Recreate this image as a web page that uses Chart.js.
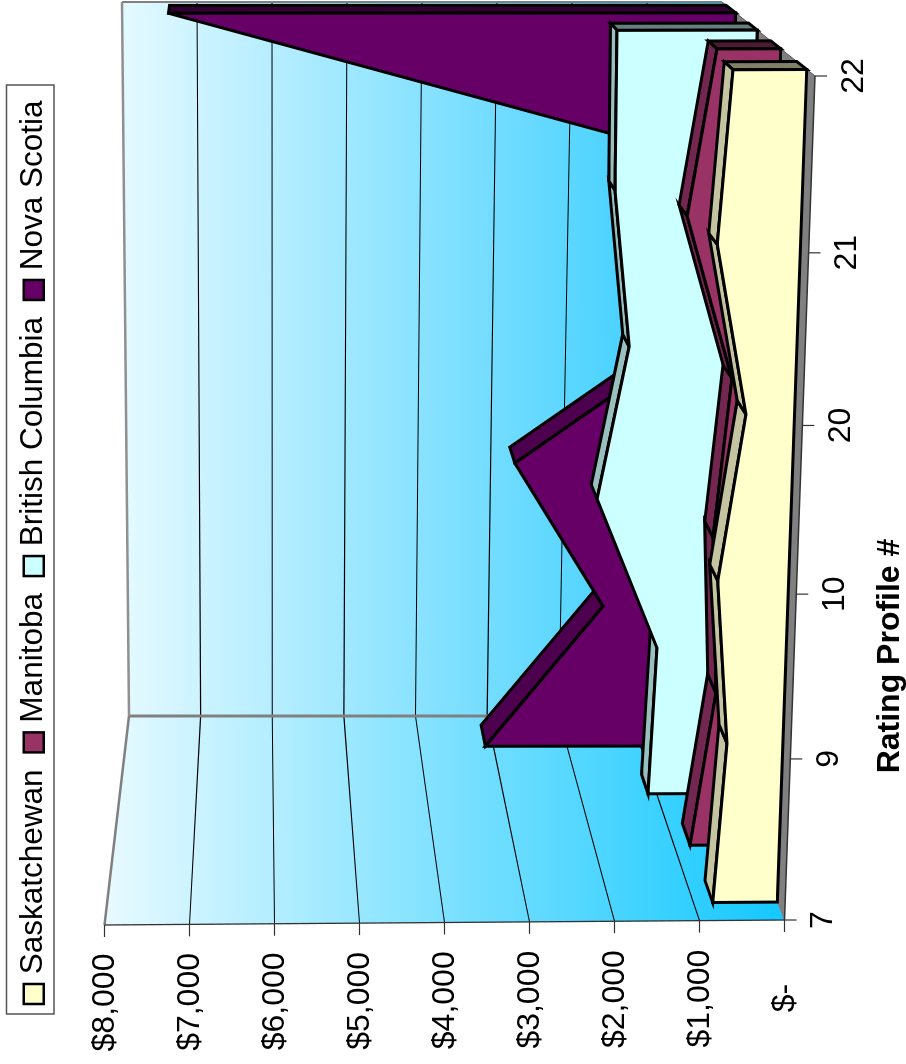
<!DOCTYPE html>
<html>
<head>
<meta charset="utf-8">
<style>
html,body{margin:0;padding:0;background:#fff;overflow:hidden}
#wrap{position:relative;width:906px;height:1064px;overflow:hidden}
#c{position:absolute;left:0;top:0;transform-origin:0 0;transform:translate(0,1064px) rotate(-90deg)}
</style>
<script src="https://cdn.jsdelivr.net/npm/chart.js@4/dist/chart.umd.js"></script>
</head>
<body>
<div id="wrap"><canvas id="c" width="1064" height="906"></canvas></div>
<script>
const categories = ['7','9','10','20','21','22'];
const saskatchewan = [770,660,830,565,960,840];
const manitoba = [800,535,630,460,1060,760];
const britishColumbia = [1113,1045,1864,1500,1725,1747];
const novaScotia = [3110,1550,2770,0,0,7360];
const seriesNames = ['Saskatchewan','Manitoba','British Columbia','Nova Scotia'];
const seriesFill = ['#FFFFCC','#993366','#CCFFFF','#660066'];
const seriesTop = ['#C4C4A0','#732650','#99BFBF','#4D004D'];
const seriesEnd = ['#808066','#4D1A33','#668080','#330033'];
const depthFront = [0.088,0.368,0.62,0.853];
const depthBack = [0.196,0.475,0.715,0.956];

const H = 1064;
const pg = (px,py)=>[H-py,px];           // page position -> rotated chart position
const box = {
  fl0:pg(784.5,920), fl1:pg(104.5,925), fr0:pg(815,76), fr1:pg(103,79),
  bl0:pg(702,716),   bl1:pg(129,716),   br0:pg(722,2),  br1:pg(122,2)
};
const mix=(a,b,k)=>[a[0]+(b[0]-a[0])*k,a[1]+(b[1]-a[1])*k];
function boxPoint(t,v,w){
  const f=mix(mix(box.fl0,box.fl1,v),mix(box.fr0,box.fr1,v),t);
  const b=mix(mix(box.bl0,box.bl1,v),mix(box.br0,box.br1,v),t);
  return mix(f,b,w);
}
function project(chart,i,val,w){
  const xs=chart.scales.x, ys=chart.scales.y;
  const t=(xs.getPixelForValue(i)-xs.left)/(xs.right-xs.left);
  const v=(ys.bottom-ys.getPixelForValue(val))/(ys.bottom-ys.top);
  return boxPoint(t,v,w);
}

class PerspectiveCategory extends Chart.CategoryScale {
  getPixelForDecimal(d){ return super.getPixelForDecimal(d/(1+0.06*(1-d))); }
  _computeLabelItems(area){
    const items=super._computeLabelItems(area);
    items.forEach((it,i)=>{
      const x=this.getPixelForTick(i);
      const t=(x-this.left)/(this.right-this.left);
      it.options.translation=[x,784.5+30.5*t+39];
      it.options.textBaseline='middle';
      it.options.textAlign='center';
      it.textOffset=0;
    });
    return items;
  }
  drawTitle(){
    const c=this.ctx; c.save(); c.translate(-158,3); super.drawTitle(); c.restore();
  }
}
PerspectiveCategory.id='perspectiveCategory';
PerspectiveCategory.defaults=Chart.CategoryScale.defaults;

class TiltedLinear extends Chart.LinearScale {
  _computeLabelItems(area){
    const items=super._computeLabelItems(area);
    items.forEach((it,i)=>{
      const y=this.getPixelForTick(i);
      const v=(this.bottom-y)/(this.bottom-this.top);
      it.options.translation=[66-4.5*v,y+1];
      it.options.textAlign='center';
      it.options.textBaseline='middle';
      it.textOffset=0;
    });
    return items;
  }
}
TiltedLinear.id='tiltedLinear';
TiltedLinear.defaults=Chart.LinearScale.defaults;
Chart.register(PerspectiveCategory,TiltedLinear);

function poly(ctx,pts,fill,stroke,lw){
  ctx.beginPath();
  pts.forEach((p,i)=>i?ctx.lineTo(p[0],p[1]):ctx.moveTo(p[0],p[1]));
  ctx.closePath();
  if(fill){ctx.fillStyle=fill;ctx.fill();}
  if(stroke){ctx.strokeStyle=stroke;ctx.lineWidth=lw;ctx.stroke();}
}
function seg(ctx,a,b,color,lw){
  ctx.beginPath();ctx.moveTo(a[0],a[1]);ctx.lineTo(b[0],b[1]);
  ctx.strokeStyle=color;ctx.lineWidth=lw;ctx.stroke();
}

const area3d={
  id:'area3d',
  beforeLayout(chart){
    const l=chart.legend;
    if(l&&!l._patched){
      const f=l.fit;
      l.fit=function(){f.call(this);this.height=60;};
      l._patched=true;
    }
  },
  afterLayout(chart){
    const l=chart.legend;
    const w=l.right-l.left;
    l.left=43;l.right=43+w;
    l.top=-5;l.bottom=55;
  },
  beforeDatasetsDraw(chart){
    const ctx=chart.ctx;
    ctx.save();
    ctx.lineJoin='miter';ctx.miterLimit=6;
    // legend frame
    ctx.strokeStyle='#555';ctx.lineWidth=1.5;
    ctx.strokeRect(50,6.5,929,47.5);

    const ys=chart.scales.y, xs=chart.scales.x;
    const last=categories.length-1;
    const BL0=project(chart,0,0,1),BL1=project(chart,0,8000,1);
    const BR0=project(chart,last,0,1),BR1=project(chart,last,8000,1);
    const FL0=project(chart,0,0,0),FL1=project(chart,0,8000,0);
    const FR0=project(chart,last,0,0);

    // floor
    poly(ctx,[FL0,FR0,BR0,BL0],'#808080');
    // back wall
    let g=ctx.createLinearGradient(0,BL1[1],0,BL0[1]);
    g.addColorStop(0,'#E2F9FF');g.addColorStop(1,'#33CCFF');
    poly(ctx,[BL0,BL1,BR1,BR0],g);
    // side wall
    g=ctx.createLinearGradient(0,FL1[1],0,FL0[1]);
    g.addColorStop(0,'#E8FAFF');g.addColorStop(1,'#14C8FF');
    poly(ctx,[FL0,FL1,BL1,BL0],g);

    // gridlines from the value scale
    ys.ticks.forEach(tk=>{
      if(tk.value===0||tk.value===8000) return;
      const a=project(chart,0,tk.value,0),b=project(chart,0,tk.value,1),c=project(chart,last,tk.value,1);
      seg(ctx,a,b,'#000',1.2);seg(ctx,b,c,'#000',1.2);
    });
    // wall edges
    seg(ctx,FL1,BL1,'#808080',2.5);
    seg(ctx,BL1,BL0,'#808080',3);
    seg(ctx,BL1,BR1,'#909090',2.5);
    seg(ctx,BR1,BR0,'#808080',2);
    seg(ctx,BR0,FR0,'#555',1);
    seg(ctx,BL0,FL0,'#808080',1);
    // axes
    seg(ctx,FL0,FL1,'#333',1.3);
    seg(ctx,FL0,FR0,'#333',1.3);
    ys.ticks.forEach(tk=>{
      const a=project(chart,0,tk.value,0);
      seg(ctx,a,[a[0]-12,a[1]],'#333',1.2);
    });
    xs.ticks.forEach((tk,i)=>{
      const a=project(chart,i,0,0);
      seg(ctx,a,[a[0],a[1]+12],'#333',1.2);
    });

    // series, back to front
    for(let s=chart.data.datasets.length-1;s>=0;s--){
      const vals=chart.data.datasets[s].data;
      const wf=depthFront[s],wb=depthBack[s];
      const lw=3;
      // end face
      poly(ctx,[project(chart,last,0,wf),project(chart,last,vals[last],wf),
                project(chart,last,vals[last],wb),project(chart,last,0,wb)],seriesEnd[s],'#000',lw);
      // top strips
      for(let i=0;i<last;i++){
        const a=project(chart,i,vals[i],wf),b=project(chart,i+1,vals[i+1],wf),
              c=project(chart,i+1,vals[i+1],wb),d=project(chart,i,vals[i],wb);
        const cross=(b[0]-a[0])*(d[1]-a[1])-(b[1]-a[1])*(d[0]-a[0]);
        if(cross<0) poly(ctx,[a,b,c,d],seriesTop[s],'#000',lw);
      }
      // front face
      const pts=[];
      pts.push(project(chart,0,0,wf));
      vals.forEach((v,i)=>pts.push(project(chart,i,v,wf)));
      pts.push(project(chart,last,0,wf));
      poly(ctx,pts,seriesFill[s],'#000',lw);
    }
    ctx.restore();
  }
};

const makeSet=(i,data)=>({
  label:seriesNames[i],data,
  backgroundColor:seriesFill[i],borderColor:'#000',borderWidth:2.5,
  pointStyle:'rect',pointRadius:0,showLine:false,fill:false
});

new Chart(document.getElementById('c'),{
  type:'line',
  data:{labels:categories,datasets:[
    makeSet(0,saskatchewan),makeSet(1,manitoba),makeSet(2,britishColumbia),makeSet(3,novaScotia)
  ]},
  plugins:[area3d],
  options:{
    responsive:false,animation:false,devicePixelRatio:1,
    font:{family:'"Liberation Sans"'},
    layout:{padding:{left:0,right:76,top:44.5,bottom:0}},
    plugins:{
      tooltip:{enabled:false},
      legend:{
        display:true,position:'top',align:'start',
        labels:{
          color:'#000',usePointStyle:true,boxWidth:8,boxHeight:20,padding:23,
          font:{family:'"Liberation Sans"',size:31.5}
        }
      }
    },
    scales:{
      x:{
        type:'perspectiveCategory',offset:false,
        grid:{display:false},border:{display:false},
        ticks:{color:'#000',maxRotation:0,minRotation:0,autoSkip:false,
               font:{family:'"Liberation Sans"',size:32}},
        title:{display:true,text:'Rating Profile #',color:'#000',padding:0,
               font:{family:'"Liberation Sans"',size:32,weight:'bold'}},
        afterFit(s){s.height=121.5;}
      },
      y:{
        type:'tiltedLinear',min:0,max:8000,
        grid:{display:false},border:{display:false},
        ticks:{stepSize:1000,color:'#000',font:{family:'"Liberation Sans"',size:32},
               callback:v=>v===0?'$-':'$'+v.toLocaleString('en-US')},
        afterFit(s){s.width=144;}
      }
    }
  }
});
</script>
</body>
</html>
